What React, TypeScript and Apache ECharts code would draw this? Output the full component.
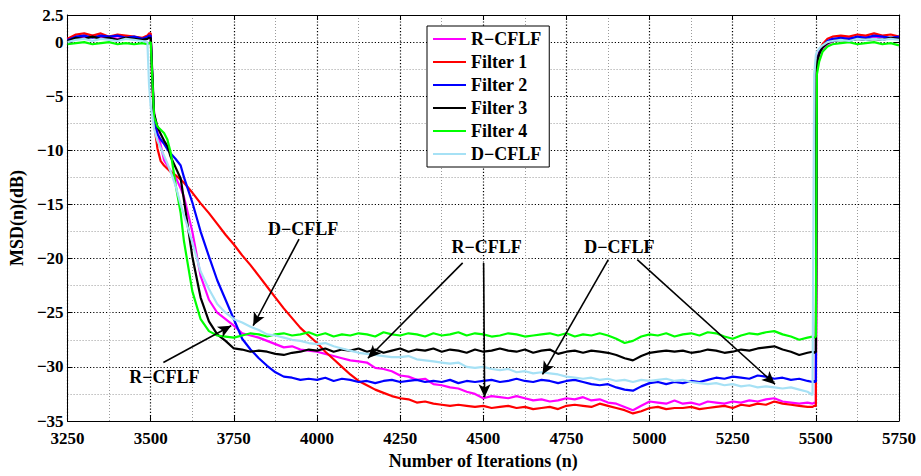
import React, { useEffect, useRef } from 'react';
import * as echarts from 'echarts';

const iterations = [
  3250, 3275, 3300, 3325, 3350, 3375, 3400, 3425, 3450, 3475, 3490, 3495,
  3500, 3505, 3510, 3520, 3530, 3540, 3550, 3560, 3575, 3590,
  3600, 3625, 3650, 3675, 3700, 3725, 3750, 3775, 3800, 3825,
  3850, 3875, 3900, 3925, 3950, 3975, 4000, 4025, 4050, 4075,
  4100, 4125, 4150, 4175, 4200, 4225, 4250, 4275, 4300, 4325,
  4350, 4375, 4400, 4425, 4450, 4475, 4500, 4525, 4550, 4575,
  4600, 4625, 4650, 4675, 4700, 4725, 4750, 4775, 4800, 4825,
  4850, 4875, 4900, 4925, 4950, 4975, 5000, 5025, 5050, 5075,
  5100, 5125, 5150, 5175, 5200, 5225, 5250, 5275, 5300, 5325,
  5350, 5375, 5400, 5425, 5450, 5475,
  5490, 5495, 5500, 5503, 5510, 5520, 5535, 5550, 5575, 5600, 5625, 5650, 5675, 5700, 5725, 5750,
];

const rCflf = [
  0.3, 0.5, 0.4, 0.6, 0.4, 0.5, 0.3, 0.5, 0.4, 0.3, 0.4, 0.5,
  0.4, -3.5, -6.5, -8.3, -9.5, -10.9, -11.4, -11.9, -12.5, -13.5,
  -14.3, -17.5, -21.6, -23.8, -25.0, -25.6, -26.2, -26.9, -27.1, -27.3,
  -27.6, -27.9, -28.2, -28.1, -28.4, -28.5, -28.6, -28.8, -29.0, -29.2,
  -29.4, -29.5, -29.6, -30.1, -30.2, -30.4, -30.8, -30.9, -31.2, -31.1,
  -31.6, -31.7, -31.9, -32.0, -32.3, -32.5, -32.9, -32.7, -32.8, -32.9,
  -32.7, -32.9, -33.1, -33.0, -33.2, -33.1, -32.9, -33.0, -32.8, -33.1,
  -33.0, -33.3, -33.4, -33.7, -34.0, -33.6, -33.2, -33.3, -33.4, -33.1,
  -33.4, -33.3, -33.5, -33.2, -33.3, -33.4, -33.2, -33.3, -33.1, -33.2,
  -33.0, -32.9, -33.2, -33.3, -33.4, -33.3,
  -33.4, -33.3, -33.4, -2.0, -1.2, -0.6, -0.2, 0.1, 0.3, 0.4, 0.3, 0.5, 0.4, 0.5, 0.3, 0.4,
];

const filter1 = [
  0.3, 0.7, 0.8, 0.6, 0.8, 0.5, 0.7, 0.6, 0.5, 0.4, 0.6, 0.8,
  0.8, -4.0, -7.5, -9.8, -11.0, -11.4, -11.7, -12.0, -12.3, -12.7,
  -13.0, -13.9, -14.9, -15.8, -16.8, -17.8, -18.7, -19.7, -20.6, -21.6,
  -22.6, -23.6, -24.6, -25.5, -26.4, -27.1, -27.8, -28.6, -29.3, -30.0,
  -30.7, -31.3, -31.7, -32.1, -32.4, -32.7, -32.9, -33.0, -33.3, -33.2,
  -33.4, -33.5, -33.6, -33.5, -33.6, -33.7, -33.6, -33.8, -33.7, -33.6,
  -33.8, -33.7, -33.9, -33.8, -33.7, -33.9, -33.6, -33.5, -33.6, -33.7,
  -33.4, -33.6, -33.8, -34.0, -34.3, -34.1, -33.8, -33.7, -33.9, -33.8,
  -33.8, -33.7, -33.9, -33.8, -33.7, -33.6, -33.8, -33.5, -33.6, -33.4,
  -33.5, -33.2, -33.4, -33.5, -33.6, -33.7,
  -33.7, -33.6, -33.6, -1.8, -0.9, -0.2, 0.3, 0.5, 0.6, 0.5, 0.7, 0.6, 0.8, 0.6, 0.7, 0.5,
];

const filter2 = [
  0.2, 0.5, 0.6, 0.4, 0.6, 0.5, 0.6, 0.4, 0.5, 0.3, 0.5, 0.6,
  0.6, -3.5, -7.0, -8.5, -9.0, -9.4, -9.9, -10.3, -10.8, -11.4,
  -12.5, -14.8, -17.5, -19.8, -22.0, -23.8, -25.6, -27.4, -28.4, -29.2,
  -29.9, -30.5, -30.9, -31.0, -31.2, -31.1, -31.2, -31.0, -31.3, -31.1,
  -31.2, -31.4, -31.3, -31.5, -31.3, -31.2, -31.4, -31.3, -31.2, -31.4,
  -31.3, -31.4, -31.2, -31.5, -31.3, -31.4, -31.3, -31.2, -31.4, -31.3,
  -31.1, -31.3, -31.4, -31.2, -31.3, -31.5, -31.3, -31.2, -31.4, -31.6,
  -31.7, -31.6, -31.9, -32.1, -32.2, -31.8, -31.5, -31.4, -31.6, -31.4,
  -31.5, -31.3, -31.4, -31.2, -31.0, -31.1, -30.9, -31.0, -31.1, -30.8,
  -30.9, -31.1, -31.0, -31.2, -31.1, -31.3,
  -31.4, -31.3, -31.4, -1.8, -1.0, -0.4, 0.1, 0.3, 0.4, 0.3, 0.5, 0.4, 0.6, 0.5, 0.4, 0.5,
];

const filter3 = [
  0.1, 0.4, 0.3, 0.5, 0.3, 0.4, 0.2, 0.4, 0.3, 0.2, 0.3, 0.4,
  0.4, -3.0, -6.6, -7.8, -8.5, -9.1, -9.6, -10.6, -11.6, -12.6,
  -14.6, -19.8, -23.6, -25.8, -27.0, -27.6, -28.3, -28.4, -28.6, -28.5,
  -28.6, -28.8, -28.9, -28.7, -28.6, -28.4, -28.5, -28.3, -28.6, -28.4,
  -28.5, -28.3, -28.6, -28.4, -28.7, -28.5, -28.3, -28.6, -28.4, -28.5,
  -28.3, -28.6, -28.4, -28.5, -28.7, -28.4, -28.6, -28.5, -28.3, -28.5,
  -28.6, -28.4, -28.7, -28.5, -28.4, -28.8, -28.6, -28.5, -28.7, -28.5,
  -28.6, -28.7, -28.9, -29.2, -29.4, -29.0, -28.7, -28.6, -28.5, -28.6,
  -28.5, -28.7, -28.6, -28.4, -28.5, -28.7, -28.6, -28.4, -28.5, -28.3,
  -28.2, -28.1, -28.4, -28.6, -28.9, -28.7,
  -28.6, -28.7, -28.6, -1.9, -1.1, -0.5, -0.1, 0.1, 0.2, 0.1, 0.3, 0.2, 0.3, 0.2, 0.4, 0.3,
];

const filter4 = [
  -0.2, -0.1, 0.0, -0.2, -0.1, 0.0, -0.2, -0.1, -0.2, -0.1, -0.2, -0.1,
  0.0, -3.5, -6.9, -7.8, -8.1, -8.4, -9.0, -10.2, -13.2, -15.8,
  -18.4, -23.0, -25.6, -26.7, -27.1, -27.2, -27.3, -27.1, -26.9, -27.0,
  -27.2, -27.0, -26.9, -27.1, -27.0, -26.8, -27.1, -26.9, -27.2, -27.0,
  -27.1, -26.9, -27.0, -27.2, -26.8, -27.0, -27.1, -26.9, -27.0, -27.2,
  -26.9, -27.1, -27.0, -26.8, -27.1, -26.9, -27.0, -27.2, -27.1, -26.9,
  -27.0, -27.2, -27.1, -27.0, -26.9, -27.1, -26.9, -27.2, -27.0, -27.1,
  -26.9, -27.1, -27.4, -27.8, -27.6, -27.2, -27.0, -27.1, -26.9, -27.2,
  -27.0, -26.9, -27.1, -26.8, -26.9, -27.2, -27.4, -27.1, -26.9, -27.0,
  -26.8, -26.7, -27.0, -27.2, -27.5, -27.3,
  -27.2, -27.3, -27.2, -3.0, -1.8, -0.9, -0.4, -0.2, -0.1, 0.0, -0.2, -0.1, 0.0, -0.2, -0.1, -0.3,
];

const dCflf = [
  0.0, 0.2, 0.3, 0.1, 0.3, 0.2, 0.1, 0.3, 0.2, 0.1, 0.0, -4.0,
  -6.0, -6.9, -8.0, -9.1, -9.8, -10.5, -11.2, -12.0, -13.3, -15.0,
  -16.0, -18.5, -21.2, -22.8, -24.2, -25.0, -25.6, -25.9, -26.3, -26.6,
  -27.0, -27.1, -27.3, -27.5, -27.6, -27.8, -27.9, -27.8, -28.1, -28.3,
  -28.5, -28.7, -28.8, -28.9, -29.0, -29.1, -29.1, -29.0, -29.3, -29.4,
  -29.5, -29.6, -29.7, -29.6, -30.0, -30.1, -30.0, -30.2, -30.3, -30.2,
  -30.5, -30.4, -30.6, -30.5, -30.6, -30.7, -30.9, -31.0, -31.1, -31.0,
  -31.2, -31.1, -31.3, -31.2, -31.4, -31.2, -31.3, -31.2, -31.1, -31.3,
  -31.2, -31.4, -31.5, -31.6, -31.5, -31.7, -31.6, -31.8, -31.7, -31.9,
  -31.8, -31.9, -32.0, -31.9, -32.1, -32.3,
  -32.6, -3.0, -1.2, -0.9, -0.6, -0.3, 0.0, 0.1, 0.2, 0.1, 0.3, 0.2, 0.3, 0.2, 0.3, 0.2,
];

const seriesNames = ['R\u2212CFLF', 'Filter 1', 'Filter 2', 'Filter 3', 'Filter 4', 'D\u2212CFLF'];
const seriesColors = ['#ff00ff', '#ff0000', '#0000ff', '#000000', '#00ff00', '#a6e1f5'];
const seriesValues = [rCflf, filter1, filter2, filter3, filter4, dCflf];

// annotation labels: [x, y, text]
const annotationLabels: [number, number, string][] = [
  [3958, -17.3, 'D\u2212CFLF'],
  [3541, -30.9, 'R\u2212CFLF'],
  [4510, -18.9, 'R\u2212CFLF'],
  [4909, -18.9, 'D\u2212CFLF'],
];
// arrows: [fromX, fromY, toX, toY]
const annotationArrows: [number, number, number, number][] = [
  [3946, -18.2, 3808, -26.2],
  [3538, -29.6, 3742, -26.2],
  [4438, -20.4, 4153, -29.2],
  [4501, -20.4, 4504, -32.8],
  [4876, -20.1, 4678, -30.7],
  [4963, -20.1, 5377, -31.6],
];

const FONT = "'Liberation Serif', 'Times New Roman', serif";

export default function App() {
  const ref = useRef<HTMLDivElement>(null);

  useEffect(() => {
    if (!ref.current) return;
    const chart = echarts.init(ref.current, null, { renderer: 'svg' });
    const fmtY = (v: number) => (v < 0 ? '\u2212' + Math.abs(v) : String(v));
    const fmtX = (v: number) => String(v);
    const baseAxisText = { color: '#000', fontFamily: FONT, fontWeight: 'bold' as const, fontSize: 17 };
    const majorSplit = { show: true, lineStyle: { color: '#000', width: 1.2, type: [1.2, 2] } };
    const minorSplit = { show: true, lineStyle: { color: '#9a9a9a', width: 1, type: [1, 2] } };
    const boxLine = { show: true, onZero: false, lineStyle: { color: '#000', width: 1 } };
    const boxTick = { show: true, inside: true, length: 5, lineStyle: { color: '#000' } };

    const series: any[] = seriesNames.map((name, si) => ({
      name,
      type: 'line',
      symbol: 'none',
      showSymbol: false,
      data: iterations.map((x, i) => [x, seriesValues[si][i]]),
      lineStyle: { width: 2.2, color: seriesColors[si] },
      itemStyle: { color: seriesColors[si] },
      emphasis: { disabled: true },
      z: 2 + si * 0.01,
    }));

    series[series.length - 1].markLine = {
      silent: true,
      symbol: ['none', 'arrow'],
      symbolSize: [9, 13],
      lineStyle: { color: '#000', width: 1.6, type: 'solid' },
      label: { show: false },
      emphasis: { disabled: true },
      data: annotationArrows.map(([x1, y1, x2, y2]) => [{ coord: [x1, y1] }, { coord: [x2, y2] }]),
      z: 10,
    };
    series[series.length - 1].markPoint = {
      silent: true,
      symbol: 'circle',
      symbolSize: 1,
      itemStyle: { color: 'rgba(0,0,0,0)' },
      label: {
        show: true,
        position: 'inside',
        color: '#000',
        fontFamily: FONT,
        fontWeight: 'bold',
        fontSize: 18,
        formatter: (p: any) => p.name,
      },
      data: annotationLabels.map(([x, y, t]) => ({ coord: [x, y], name: t })),
      z: 10,
    };

    chart.setOption({
      animation: false,
      backgroundColor: '#fff',
      grid: { left: 66, right: 22, top: 15, bottom: 55, containLabel: false },
      legend: {
        data: seriesNames.map((n) => ({ name: n, icon: 'rect' })),
        orient: 'vertical',
        left: 427,
        top: 26,
        itemWidth: 33,
        itemHeight: 2,
        itemGap: 5,
        padding: [4, 8, 4, 6],
        backgroundColor: '#fff',
        borderColor: '#000',
        borderWidth: 1,
        borderRadius: 0,
        textStyle: { color: '#000', fontFamily: FONT, fontWeight: 'bold', fontSize: 18 },
        z: 20,
      },
      xAxis: [
        {
          type: 'value',
          min: 3250,
          max: 5750,
          interval: 250,
          position: 'bottom',
          axisLine: boxLine,
          axisTick: boxTick,
          axisLabel: { ...baseAxisText, margin: 9, formatter: fmtX },
          splitLine: majorSplit,
          minorTick: { show: false, splitNumber: 2 },
          minorSplitLine: minorSplit,
          name: 'Number of Iterations (n)',
          nameLocation: 'middle',
          nameGap: 31,
          nameTextStyle: { color: '#000', fontFamily: FONT, fontWeight: 'bold', fontSize: 18 },
        },
        {
          type: 'value',
          min: 3250,
          max: 5750,
          interval: 250,
          position: 'top',
          axisLine: boxLine,
          axisTick: boxTick,
          axisLabel: { show: false },
          splitLine: { show: false },
        },
      ],
      yAxis: [
        {
          type: 'value',
          min: -35,
          max: 2.5,
          interval: 5,
          position: 'left',
          axisLine: boxLine,
          axisTick: boxTick,
          axisLabel: { ...baseAxisText, margin: 4, formatter: fmtY },
          splitLine: majorSplit,
          minorTick: { show: false, splitNumber: 2 },
          minorSplitLine: minorSplit,
          name: 'MSD(n)(dB)',
          nameLocation: 'middle',
          nameGap: 38,
          nameTextStyle: { color: '#000', fontFamily: FONT, fontWeight: 'bold', fontSize: 18 },
        },
        {
          type: 'value',
          min: -35,
          max: 2.5,
          interval: 5,
          position: 'right',
          axisLine: boxLine,
          axisTick: boxTick,
          axisLabel: { show: false },
          splitLine: { show: false },
        },
      ],
      series,
    });

    return () => chart.dispose();
  }, []);

  return (
    <div
      ref={ref}
      style={{ position: 'fixed', left: 0, top: 0, width: 921, height: 476, background: '#fff' }}
    />
  );
}
